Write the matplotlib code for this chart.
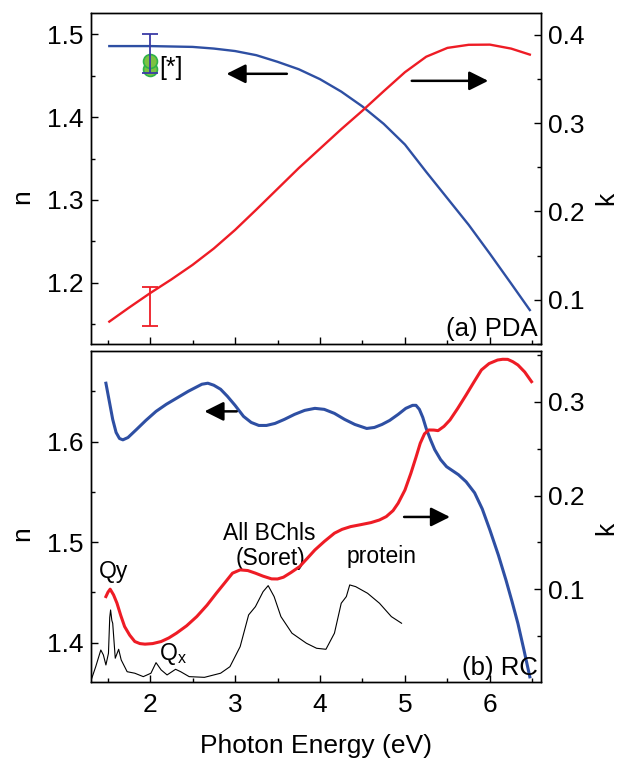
import numpy as np
import matplotlib
matplotlib.use("Agg")
import matplotlib.pyplot as plt
from matplotlib.ticker import MultipleLocator

plt.rcParams['font.family'] = ['Liberation Sans', 'DejaVu Sans']
plt.rcParams['mathtext.default'] = 'regular'

# ---- panel (a) PDA ----
pda_n_e = [1.52, 1.75, 2.0, 2.25, 2.5, 2.75, 3.0, 3.25, 3.5, 3.75, 4.0, 4.25, 4.5,
           4.75, 5.0, 5.25, 5.5, 5.75, 6.0, 6.25, 6.47]
pda_n = [1.486, 1.486, 1.486, 1.4855, 1.485, 1.483, 1.480, 1.475, 1.467, 1.458, 1.446,
         1.431, 1.413, 1.392, 1.367, 1.334, 1.302, 1.270, 1.235, 1.199, 1.167]
pda_k_e = pda_n_e
pda_k = [0.0753, 0.091, 0.1075, 0.123, 0.1395, 0.158, 0.179, 0.202, 0.2255, 0.249, 0.271,
         0.293, 0.314, 0.336, 0.3575, 0.375, 0.385, 0.3885, 0.3887, 0.3842, 0.3774]
# reference values at 2 eV
ref_e = 2.0
ref_n = [1.4674, 1.4582]
ref_n_bar = (1.4765, 0.0235)
ref_k_bar = (0.0924, 0.0219)

# ---- panel (b) RC ----
rc_n_e = [1.48, 1.52, 1.56, 1.60, 1.64, 1.68, 1.74, 1.84, 1.95, 2.07, 2.19, 2.31, 2.45,
          2.61, 2.68, 2.75, 2.83, 2.91, 3.00, 3.10, 3.19, 3.28, 3.37, 3.47, 3.58, 3.70,
          3.82, 3.94, 4.05, 4.17, 4.29, 4.41, 4.55, 4.64, 4.73, 4.82, 4.92, 5.01, 5.09,
          5.13, 5.17, 5.21, 5.25, 5.30, 5.35, 5.42, 5.49, 5.56, 5.63, 5.72, 5.82, 5.91,
          6.00, 6.10, 6.19, 6.26, 6.33, 6.40, 6.47]
rc_n = [1.658, 1.640, 1.622, 1.609, 1.603, 1.6017, 1.604, 1.612, 1.621, 1.630, 1.637,
        1.643, 1.650, 1.657, 1.658, 1.656, 1.652, 1.645, 1.636, 1.625, 1.619, 1.616,
        1.616, 1.618, 1.622, 1.627, 1.631, 1.633, 1.632, 1.628, 1.622, 1.617, 1.613,
        1.614, 1.617, 1.621, 1.627, 1.633, 1.636, 1.636, 1.632, 1.624, 1.613, 1.602,
        1.592, 1.582, 1.575, 1.571, 1.567, 1.560, 1.549, 1.533, 1.512, 1.487, 1.462,
        1.441, 1.419, 1.393, 1.366]
rc_k_e = [1.48, 1.505, 1.53, 1.57, 1.61, 1.655, 1.70, 1.76, 1.82, 1.88, 1.94, 2.03, 2.13,
          2.22, 2.31, 2.43, 2.55, 2.67, 2.78, 2.88, 2.97, 3.06, 3.15, 3.24, 3.33, 3.43,
          3.50, 3.57, 3.66, 3.76, 3.85, 3.94, 4.05, 4.17, 4.26, 4.36, 4.48, 4.60, 4.70,
          4.78, 4.86, 4.92, 5.00, 5.07, 5.13, 5.18, 5.23, 5.28, 5.34, 5.39, 5.46, 5.53,
          5.62, 5.72, 5.81, 5.90, 5.99, 6.09, 6.15, 6.21, 6.27, 6.33, 6.41, 6.49]
rc_k = [0.0922, 0.097, 0.1001, 0.094, 0.0852, 0.072, 0.0602, 0.051, 0.0442, 0.042, 0.0414,
        0.042, 0.0442, 0.048, 0.0531, 0.061, 0.0709, 0.083, 0.0958, 0.107, 0.1172, 0.1207,
        0.120, 0.1172, 0.114, 0.1111, 0.111, 0.1129, 0.118, 0.1242, 0.133, 0.1420, 0.151,
        0.1599, 0.164, 0.1669, 0.169, 0.1712, 0.174, 0.1776, 0.184, 0.1919, 0.206, 0.2239,
        0.241, 0.2559, 0.266, 0.2701, 0.270, 0.2694, 0.274, 0.2808, 0.293, 0.3075, 0.321,
        0.3342, 0.341, 0.3448, 0.3456, 0.3455, 0.343, 0.3395, 0.332, 0.3217]
# absorption spectrum (arbitrary units, drawn on n scale)
abs_e = [1.30, 1.36, 1.42, 1.45, 1.48, 1.51, 1.525, 1.535, 1.55, 1.56, 1.59, 1.63, 1.66,
         1.73, 1.82, 1.92, 2.01, 2.07, 2.13, 2.20, 2.30, 2.36, 2.46, 2.64, 2.83, 2.94,
         3.06, 3.16, 3.24, 3.33, 3.39, 3.46, 3.54, 3.67, 3.84, 3.96, 4.07, 4.17, 4.25,
         4.31, 4.35, 4.42, 4.56, 4.70, 4.84, 4.96]
abs_y = [1.3612, 1.3761, 1.3927, 1.3878, 1.3778, 1.3894, 1.425, 1.4325, 1.422, 1.4193,
         1.3845, 1.3934, 1.3828, 1.3711, 1.3696, 1.3662, 1.3696, 1.3801, 1.3729, 1.3679,
         1.3735, 1.3711, 1.3662, 1.3655, 1.3696, 1.3761, 1.3960, 1.4276, 1.4358, 1.4507,
         1.4567, 1.4458, 1.4259, 1.4094, 1.3994, 1.3944, 1.3934, 1.4094, 1.4392, 1.4458,
         1.4574, 1.4557, 1.4491, 1.4392, 1.4259, 1.4193]

BLUE = '#2e4fa3'
RED = '#ee1c25'
TICK_FS = 19
LABEL_FS = 19
NOTE_FS = 16.5
PANEL_FS = 18.5

fig = plt.figure(figsize=(6.22, 7.59), dpi=100)
ax1 = fig.add_axes([0.1461, 0.5468, 0.7232, 0.4361])
ax2 = fig.add_axes([0.1461, 0.1011, 0.7232, 0.4364])
ax1r = ax1.twinx()
ax2r = ax2.twinx()


def style(ax, side):
    ax.tick_params(which='both', direction='in', top=False, bottom=(side == 'left'),
                   left=(side == 'left'), right=(side == 'right'),
                   labelleft=(side == 'left'), labelright=(side == 'right'),
                   labelsize=TICK_FS, pad=5, width=1.0)
    ax.tick_params(which='major', length=5)
    ax.tick_params(which='minor', length=3)
    for s in ax.spines.values():
        s.set_linewidth(1.0)


for a in (ax1, ax2):
    style(a, 'left')
    a.set_xlim(1.303, 6.598)
    a.xaxis.set_major_locator(MultipleLocator(1))
    a.xaxis.set_minor_locator(MultipleLocator(0.5))
    a.yaxis.set_major_locator(MultipleLocator(0.1))
    a.yaxis.set_minor_locator(MultipleLocator(0.05))
for a in (ax1r, ax2r):
    style(a, 'right')
    a.yaxis.set_major_locator(MultipleLocator(0.1))
    a.yaxis.set_minor_locator(MultipleLocator(0.05))

ax1.tick_params(labelbottom=False)
ax2.tick_params(axis='x', pad=8)

# panel (a)
ax1.set_ylim(1.126, 1.526)
ax1r.set_ylim(0.050, 0.4245)
ax1.plot(ref_e, ref_n[1], 'o', ms=10, mfc='#7cc242', mec='#2fb24a', mew=1.2, zorder=3)
ax1.plot(ref_e, ref_n[0], 'o', ms=10, mfc='#7cc242', mec='#2fb24a', mew=1.2, zorder=3)
ax1.errorbar(ref_e, ref_n_bar[0], yerr=ref_n_bar[1], fmt='none', ecolor='#3b3ba6',
             elinewidth=1.3, capsize=6, capthick=1.3, zorder=4)
ax1.plot(pda_n_e, pda_n, color=BLUE, lw=1.7, zorder=2)
ax1r.plot(pda_k_e, pda_k, color=RED, lw=1.7)
ax1r.errorbar(ref_e, ref_k_bar[0], yerr=ref_k_bar[1], fmt='none', ecolor=RED,
              elinewidth=1.3, capsize=6, capthick=1.3)
ax1.text(2.11, 1.460, '[*]', fontsize=18, va='center', ha='left')
ax1.text(0.993, 0.008, '(a) PDA', transform=ax1.transAxes, fontsize=PANEL_FS,
         ha='right', va='bottom')

arrow = dict(arrowstyle='-|>,head_length=0.4,head_width=0.2', mutation_scale=29,
             lw=1.8, color='k', shrinkA=0, shrinkB=0)
ax1.annotate('', xy=(2.90, 1.4525), xytext=(3.61, 1.4525), arrowprops=arrow)
ax1.annotate('', xy=(5.98, 1.444), xytext=(5.08, 1.444), arrowprops=arrow)

ax1.set_ylabel('n', fontsize=LABEL_FS)
ax1r.set_ylabel('k', fontsize=LABEL_FS)
ax1.yaxis.set_label_coords(-0.125, 0.444)
ax1r.yaxis.set_label_coords(1.118, 0.44)

# panel (b)
ax2.set_ylim(1.3606, 1.690)
ax2r.set_ylim(0.0007, 0.3544)
ax2.plot(abs_e, abs_y, color='k', lw=0.8)
ax2.plot(rc_n_e, rc_n, color=BLUE, lw=2.2)
ax2r.plot(rc_k_e, rc_k, color=RED, lw=2.2)
ax2.annotate('', xy=(2.64, 1.630), xytext=(3.02, 1.630), arrowprops=arrow)
ax2.annotate('', xy=(5.53, 1.525), xytext=(4.99, 1.525), arrowprops=arrow)

ax2.text(1.575, 1.471, 'Qy', fontsize=NOTE_FS, ha='center', va='center')
ax2.text(2.10, 1.389, 'Q$_x$', fontsize=NOTE_FS, ha='left', va='center')
ax2.text(3.40, 1.509, 'All BChls', fontsize=NOTE_FS, ha='center', va='center')
ax2.text(3.42, 1.484, '(Soret)', fontsize=NOTE_FS, ha='center', va='center')
ax2.text(4.73, 1.486, 'protein', fontsize=NOTE_FS, ha='center', va='center')
ax2.text(0.993, 0.008, '(b) RC', transform=ax2.transAxes, fontsize=PANEL_FS,
         ha='right', va='bottom')

ax2.set_xlabel('Photon Energy (eV)', fontsize=LABEL_FS, labelpad=12)
ax2.set_ylabel('n', fontsize=LABEL_FS)
ax2r.set_ylabel('k', fontsize=LABEL_FS)
ax2.yaxis.set_label_coords(-0.125, 0.45)
ax2r.yaxis.set_label_coords(1.118, 0.465)

fig.savefig('out.png', dpi=100)
